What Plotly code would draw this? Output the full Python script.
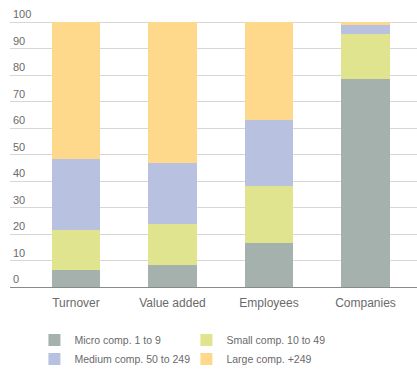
import plotly.graph_objects as go

categories = ["Turnover", "Value added", "Employees", "Companies"]
series_names = ["Micro comp. 1 to 9", "Small comp. 10 to 49", "Medium comp. 50 to 249", "Large comp. +249"]
micro = [6.5, 8.4, 16.7, 78.6]
small = [15.1, 15.5, 21.3, 17.0]
medium = [26.7, 23.0, 24.9, 3.4]
large = [51.7, 53.1, 37.1, 1.0]
tick_vals = [0, 10, 20, 30, 40, 50, 60, 70, 80, 90, 100]

colors = ["#a5b1ac", "#e0e48f", "#b9c1e1", "#fed98c"]
values = [micro, small, medium, large]

fig = go.Figure()
for name, vals, col in zip(series_names, values, colors):
    fig.add_trace(go.Bar(x=categories, y=vals, name=name, marker=dict(color=col, line=dict(width=0))))

fig.update_layout(
    width=417, height=370,
    margin=dict(l=10, r=0, t=4, b=83, autoexpand=False),
    barmode="stack", bargap=0.5,
    plot_bgcolor="white", paper_bgcolor="white",
    font=dict(family="Liberation Sans, Arial, sans-serif", color="#6a6a6a", size=12),
    showlegend=True,
    legend=dict(orientation="h", x=0.06, xanchor="left", y=-0.136, yanchor="top",
                entrywidth=107, entrywidthmode="pixels", traceorder="normal",
                font=dict(size=10.5, color="#6a6a6a"), itemwidth=30),
    xaxis=dict(type="category", range=[-0.684, 3.534], showgrid=False, showline=True,
               linecolor="#8a8a8a", linewidth=1, ticks="", ticklabelstandoff=5,
               tickfont=dict(size=12, color="#6a6a6a")),
    yaxis=dict(range=[0, 106.8], tickvals=tick_vals, showgrid=True,
               gridcolor="rgba(140,140,140,0.35)", gridwidth=1, zeroline=False,
               ticklabelposition="inside top", layer="above traces",
               tickfont=dict(size=11, color="#6a6a6a")),
)

fig.write_html("out.html")
